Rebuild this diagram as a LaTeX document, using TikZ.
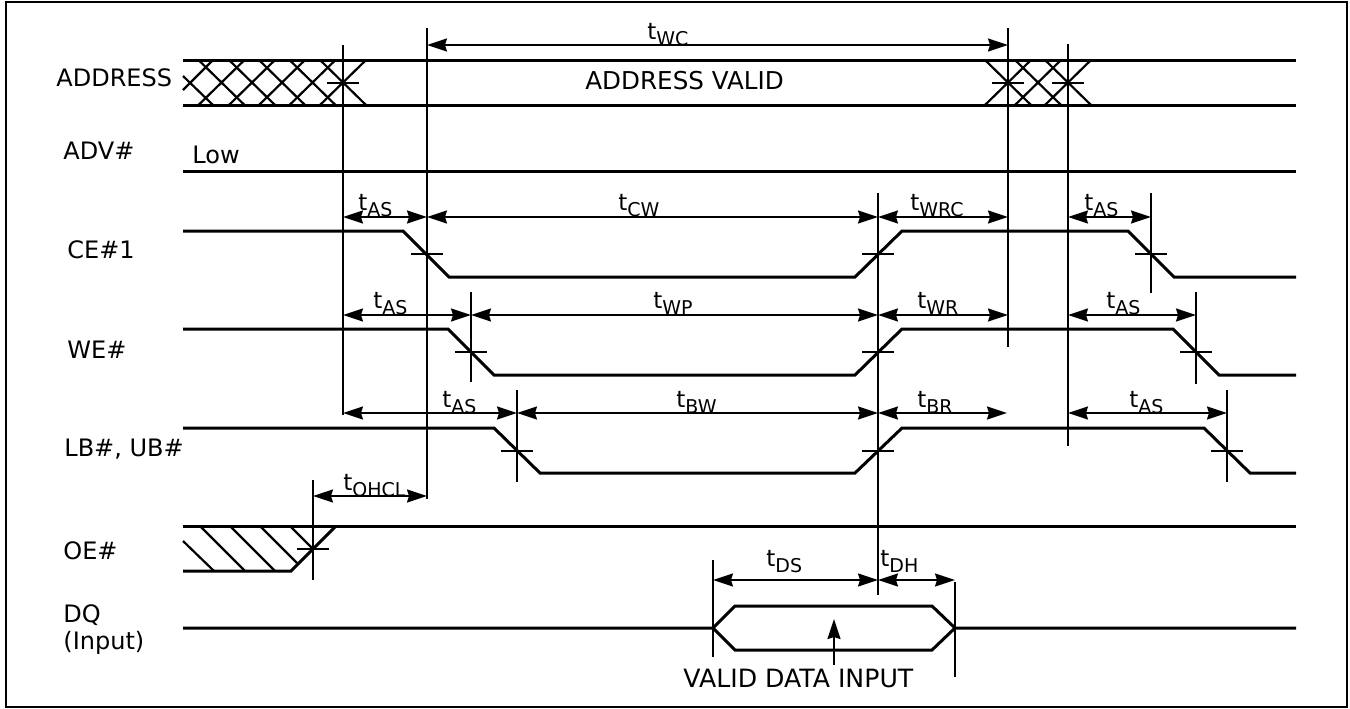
\documentclass[tikz,border=0pt]{standalone}
\usepackage{fontspec}
\setmainfont{DejaVu Sans}
\usetikzlibrary{arrows.meta}
\newcommand{\tname}[1]{{\fontsize{11.5}{12}\selectfont t\raisebox{-3pt}{\fontsize{9.5}{10}\selectfont #1}}}

\begin{document}
\begin{tikzpicture}[
  x=0.5pt, y=-0.5pt,
  wave/.style={line width=1.5pt},
  guide/.style={line width=1pt},
  hatchline/.style={line width=1.1pt},
  dim/.style={{Stealth[length=10pt,width=6.5pt,inset=1pt]}-{Stealth[length=10pt,width=6.5pt,inset=1pt]}, line width=0.8pt},
  pointer/.style={-{Stealth[length=10pt,width=6.5pt,inset=1pt]}, line width=1pt},
  lab/.style={font=\fontsize{12}{12}\selectfont, anchor=base west, inner sep=0pt},
  timing/.style={inner sep=0pt, anchor=base west}
]
\useasboundingbox (0,0) rectangle (1350,708);
\draw[line width=1pt] (6,2) rectangle (1347,707);

% signal names
\node[lab] (address) at (56,86) {ADDRESS};
\node[lab] (adv) at (63,159) {ADV\#};
\node[lab] (ce) at (67,258) {CE\#1};
\node[lab] (we) at (67,358) {WE\#};
\node[lab] (lb) at (64,456) {LB\#, UB\#};
\node[lab] (oe) at (63,559) {OE\#};
\node[lab] (dq) at (63,622) {DQ};
\node[lab] (input) at (63,649) {(Input)};
\node[lab] (low) at (192,163) {Low};
\node[lab, font=\fontsize{12.3}{12}\selectfont] (addrvalid) at (585,89) {ADDRESS VALID};
\node[lab, font=\fontsize{12.6}{12}\selectfont] (datavalid) at (683,687) {VALID DATA INPUT};

% waveforms
\draw[wave] (183,60) -- (1296,60);
\draw[wave] (183,105) -- (1296,105);
\draw[wave] (183,171) -- (1296,171);
\draw[wave] (183,231) -- (403,231) -- (449,277) -- (855,277) -- (902,231) -- (1128,231) -- (1174,277) -- (1296,277);
\draw[wave] (183,329) -- (448,329) -- (494,375) -- (855,375) -- (902,329) -- (1173,329) -- (1219,375) -- (1296,375);
\draw[wave] (183,428) -- (494,428) -- (540,473) -- (855,473) -- (902,428) -- (1204,428) -- (1250,473) -- (1296,473);
\draw[wave] (183,526) -- (1296,526);
\draw[wave] (183,571) -- (291,571) -- (336,526);
\draw[wave] (183,628) -- (713,628) -- (735,606) -- (932,606) -- (955,628) -- (1296,628);
\draw[wave] (713,628) -- (735,650) -- (932,650) -- (955,628);

% hatching
\foreach \cx in {221.5,252,282,312.5,343}
  \draw[hatchline] (\cx-23,60) -- (\cx+23,105) (\cx-23,105) -- (\cx+23,60);
\draw[hatchline] (183,76) -- (213,105) (183,90) -- (213,60);
\foreach \cx in {1008,1038,1068}
  \draw[hatchline] (\cx-23,60) -- (\cx+23,105) (\cx-23,105) -- (\cx+23,60);
\draw[hatchline] (183,541) -- (214,571);
\draw[hatchline] (200,526) -- (245,571);
\draw[hatchline] (230,526) -- (275,571);
\draw[hatchline] (260,526) -- (297,563);
\draw[hatchline] (290,526) -- (313,549);

% guide lines
\draw[guide] (343,45) -- (343,415);
\draw[guide] (427,28) -- (427,499);
\draw[guide] (1008,28) -- (1008,347);
\draw[guide] (1068,44) -- (1068,446);
\draw[guide] (878,193) -- (878,595);
\draw[guide] (313,480) -- (313,580);
\draw[guide] (471,292) -- (471,382);
\draw[guide] (517,390) -- (517,482);
\draw[guide] (713,560) -- (713,657);
\draw[guide] (955,582) -- (955,677);
\draw[guide] (1151,193) -- (1151,293);
\draw[guide] (1196,292) -- (1196,384);
\draw[guide] (1227,390) -- (1227,482);

% crossing ticks
\foreach \tx/\ty in {343/83,1008/83,1068/83,427/254,878/254,1151/254,471/352,878/352,1196/352,517/451,878/451,1227/451,313/549}
  \draw[guide] (\tx-16,\ty) -- (\tx+16,\ty);

% timing arrows
\draw[dim] (427,45) -- (1008,45);
\draw[dim] (343,217) -- (427,217);
\draw[dim] (427,217) -- (878,217);
\draw[dim] (878,217) -- (1008,217);
\draw[dim] (1068,217) -- (1151,217);
\draw[dim] (343,315) -- (471,315);
\draw[dim] (471,315) -- (878,315);
\draw[dim] (878,315) -- (1008,315);
\draw[dim] (1068,315) -- (1196,315);
\draw[dim] (343,413) -- (517,413);
\draw[dim] (517,413) -- (878,413);
\draw[dim] (878,413) -- (1007,413);
\draw[dim] (1068,413) -- (1227,413);
\draw[dim] (313,496) -- (427,496);
\draw[dim] (713,580) -- (878,580);
\draw[dim] (878,580) -- (955,580);
\draw[pointer] (834,665) -- (834,619);

% timing names
\node[timing] (twc) at (647,39) {\tname{WC}};
\node[timing] (tas1) at (358,210) {\tname{AS}};
\node[timing] (tcw) at (618,210) {\tname{CW}};
\node[timing] (twrc) at (910,210) {\tname{WRC}};
\node[timing] (tas2) at (1084,210) {\tname{AS}};
\node[timing] (tas3) at (373,308) {\tname{AS}};
\node[timing] (twp) at (653,308) {\tname{WP}};
\node[timing] (twr) at (917,308) {\tname{WR}};
\node[timing] (tas4) at (1106,308) {\tname{AS}};
\node[timing] (tas5) at (442,407) {\tname{AS}};
\node[timing] (tbw) at (676,407) {\tname{BW}};
\node[timing] (tbr) at (917,407) {\tname{BR}};
\node[timing] (tas6) at (1129,407) {\tname{AS}};
\node[timing] (tohcl) at (343,490) {\tname{OHCL}};
\node[timing] (tds) at (766,566) {\tname{DS}};
\node[timing] (tdh) at (880,566) {\tname{DH}};
\end{tikzpicture}
\end{document}
